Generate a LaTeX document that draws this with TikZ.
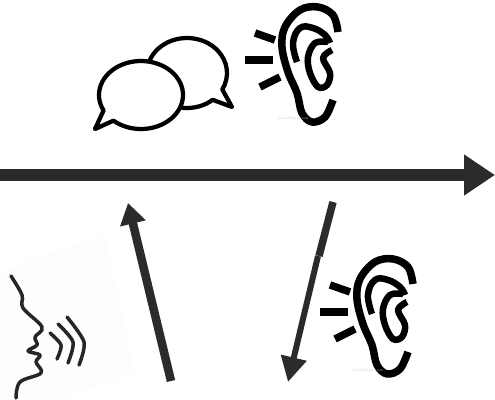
\documentclass[tikz,border=0pt]{standalone}
\usepackage{xcolor}
\usepackage{tikz}
\usetikzlibrary{arrows.meta}
\usetikzlibrary{positioning}
\definecolor{arrowgray}{HTML}{2B2B2B}
\tikzset{
  inkline/.style={black, line width=0.13cm, line join=round},
  rayline/.style={black, line width=0.15cm},
  bubble/.style={black, fill=white, line width=0.085cm, line join=round},
  voiceline/.style={black!85, line width=0.07cm, line cap=round, line join=round},
  ear/.pic={
    \draw[rayline] (255,33) -- (275,40);
    \draw[rayline] (245,60) -- (273,60);
    \draw[rayline] (260,87) -- (280,77);
    \draw[inkline, line width=0.15cm] plot[smooth, tension=0.6] coordinates {(338,32) (333,15) (318,7) (300,10) (285,27) (282,47) (288,72) (297,93) (302,113) (312,122) (325,117) (333,100)};
    \draw[inkline] plot[smooth, tension=0.7] coordinates {(297,62) (293,43) (300,28) (313,28) (325,35) (330,43)};
    \draw[inkline] plot[smooth, tension=0.6] coordinates {(328,42) (315,43) (308,57) (310,73) (318,87) (327,85) (330,73) (323,58) (332,50)};
    \node[gray!50, font=\fontsize{2}{2}\selectfont] (mark) at (293,119) {CoolClips.com};
  }
}
\begin{document}
\begin{tikzpicture}[x=0.02cm, y=-0.02cm]
  \useasboundingbox (0,0) rectangle (495,400);

  \fill[black!0.6] (0,272) -- (105,233) -- (135,372) -- (60,400) -- (0,400) -- cycle;

  % bubbles
  \draw[bubble] (187,73) ++(50:40 and 35) arc (50:388:40 and 35) -- (232,107) -- cycle;
  \draw[bubble] (141,95) ++(153:42 and 34) arc (153:491:42 and 34) -- (95,129) -- cycle;

  \pic {ear};
  \pic[xshift=1.5cm, yshift=-5.04cm] {ear};

  % speaker
  \draw[voiceline] plot[smooth, tension=0.6] coordinates {(11,276) (22,295) (23,308) (42,327) (35,337) (37,345) (28,351) (40,355) (36,362) (41,373) (20,382) (16,398)};
  \draw[voiceline] plot[smooth] coordinates {(50,333) (61,345) (57,359)};
  \draw[voiceline] plot[smooth] coordinates {(58,324) (73,342) (68,363)};
  \draw[voiceline] plot[smooth] coordinates {(67,317) (84,342) (79,365)};

  % arrows
  \coordinate (timestart) at (0,175);
  \coordinate (timeend) at (495,175);
  \coordinate (upstart) at (171,381);
  \coordinate (upend) at (128,203);
  \coordinate (downstart) at (333,202);
  \coordinate (downmid) at (319,256);
  \coordinate (downend) at (288,382);
  \draw[arrowgray, line width=0.25cm, -{Triangle[length=0.62cm, width=0.78cm]}] (timestart) -- (timeend);
  \draw[arrowgray, line width=0.17cm, -{Triangle[length=0.42cm, width=0.5cm]}] (upstart) -- (upend);
  \draw[arrowgray, line width=0.15cm] (downstart) -- (downmid);
  \draw[arrowgray, line width=0.12cm, -{Triangle[length=0.5cm, width=0.5cm]}] (downmid) ++(-1,0) -- (downend);
\end{tikzpicture}
\end{document}
